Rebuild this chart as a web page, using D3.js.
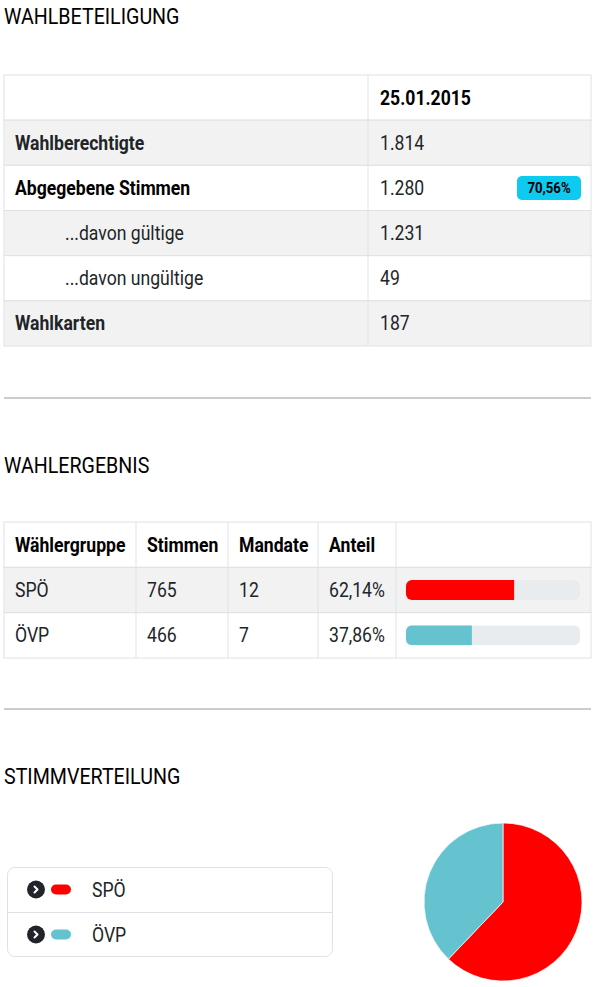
<!DOCTYPE html>
<html>
<head>
<meta charset="utf-8">
<script src="https://cdn.jsdelivr.net/npm/d3@7"></script>
<style>
  html, body { margin: 0; padding: 0; background: #fff; }
  svg { display: block; font-family: Roboto, "Noto Sans", sans-serif; }
</style>
</head>
<body>
<svg id="chart" width="601" height="987"></svg>
<script>
// --- data ---
const electionDate = "25.01.2015";
const turnoutLabels = ["Wahlberechtigte", "Abgegebene Stimmen", "...davon gültige", "...davon ungültige", "Wahlkarten"];
const turnoutValues = [1814, 1280, 1231, 49, 187];
const resultHeaders = ["Wählergruppe", "Stimmen", "Mandate", "Anteil"];
const parties = ["SPÖ", "ÖVP"];
const partyVotes = [765, 466];
const partySeats = [12, 7];
const partyColors = ["#ff0000", "#65c3d0"];

const de = d3.formatLocale({ decimal: ",", thousands: ".", grouping: [3], currency: ["", " €"] });
const fmtInt = de.format(",d");
const fmtPct = v => de.format(".2f")(v) + "%";

const svg = d3.select("#chart");
const squeeze = 0.88; // condensed look

function txt(g, x, y, s, opt = {}) {
  return g.append("text")
    .attr("transform", `translate(${x},${y}) scale(${squeeze},1)`)
    .attr("text-anchor", opt.anchor || "start")
    .style("font-size", (opt.size || 20) + "px")
    .style("font-weight", opt.bold ? 700 : 400)
    .attr("fill", opt.color || "#212529")
    .text(s);
}

const border = "#dee2e6";
const stripe = "#f2f2f2";
const left = 4, right = 591;

// --- WAHLBETEILIGUNG ---
txt(svg, 4, 24, "WAHLBETEILIGUNG", { size: 22.3, color: "#000" });

const t1 = svg.append("g");
const t1Rows = ["head"].concat(turnoutLabels);
const y1 = d3.scaleBand().domain(d3.range(t1Rows.length)).range([75, 346]);
const col1 = [left, 368, right];

t1.selectAll("rect.row")
  .data(t1Rows)
  .join("rect")
  .attr("class", "row")
  .attr("x", left).attr("width", right - left)
  .attr("y", (d, i) => y1(i)).attr("height", y1.bandwidth())
  .attr("fill", (d, i) => (i % 2 === 1 ? stripe : "#fff"))
  .attr("stroke", border).attr("stroke-width", 1);

t1.append("line")
  .attr("x1", col1[1]).attr("x2", col1[1])
  .attr("y1", y1.range()[0]).attr("y2", y1.range()[1])
  .attr("stroke", border);

const mid1 = i => y1(i) + y1.bandwidth() / 2 + 7;
txt(t1, 380, mid1(0), electionDate, { bold: true, color: "#000" });

turnoutLabels.forEach((lab, i) => {
  const sub = lab.startsWith("...");
  txt(t1, sub ? 65 : 15, mid1(i + 1), lab, { bold: !sub, color: i === 1 ? "#000" : "#212529" });
  txt(t1, 380, mid1(i + 1), fmtInt(turnoutValues[i]));
});

// turnout badge
const turnout = turnoutValues[1] / turnoutValues[0] * 100;
const badge = t1.append("g").attr("transform", `translate(549,${y1(2) + y1.bandwidth() / 2})`);
badge.append("rect")
  .attr("x", -32).attr("y", -12).attr("width", 64).attr("height", 24)
  .attr("rx", 5).attr("fill", "#0dcaf0");
txt(badge, 0, 5.5, fmtPct(turnout), { size: 15, bold: true, color: "#000", anchor: "middle" });

// divider
svg.append("line").attr("x1", left).attr("x2", right).attr("y1", 398).attr("y2", 398)
  .attr("stroke", "#cccccc").attr("stroke-width", 2);

// --- WAHLERGEBNIS ---
txt(svg, 4, 473, "WAHLERGEBNIS", { size: 22.3, color: "#000" });

const t2 = svg.append("g");
const y2 = d3.scaleBand().domain(d3.range(parties.length + 1)).range([522, 658]);
const cols2 = [left, 136, 228, 318, 396, right];

t2.selectAll("rect.row")
  .data(d3.range(parties.length + 1))
  .join("rect")
  .attr("class", "row")
  .attr("x", left).attr("width", right - left)
  .attr("y", i => y2(i)).attr("height", y2.bandwidth())
  .attr("fill", i => (i % 2 === 1 ? stripe : "#fff"))
  .attr("stroke", border);

t2.selectAll("line.col")
  .data(cols2.slice(1, -1))
  .join("line")
  .attr("class", "col")
  .attr("x1", d => d).attr("x2", d => d)
  .attr("y1", y2.range()[0]).attr("y2", y2.range()[1])
  .attr("stroke", border);

const mid2 = i => y2(i) + y2.bandwidth() / 2 + 7;
resultHeaders.forEach((h, j) => txt(t2, cols2[j] + 11, mid2(0), h, { bold: true, color: "#000" }));

const validVotes = turnoutValues[2];
const shares = partyVotes.map(v => v / validVotes * 100);
const barX = d3.scaleLinear().domain([0, 100]).range([0, 174]);
const barH = 20;

parties.forEach((p, i) => {
  const r = i + 1;
  txt(t2, cols2[0] + 11, mid2(r), p);
  txt(t2, cols2[1] + 11, mid2(r), partyVotes[i]);
  txt(t2, cols2[2] + 11, mid2(r), partySeats[i]);
  txt(t2, cols2[3] + 11, mid2(r), fmtPct(shares[i]));

  const bg = t2.append("g").attr("transform", `translate(406,${y2(r) + y2.bandwidth() / 2 - barH / 2})`);
  const clipId = "clip" + i;
  bg.append("clipPath").attr("id", clipId)
    .append("rect").attr("width", barX(100)).attr("height", barH).attr("rx", 6);
  const inner = bg.append("g").attr("clip-path", `url(#${clipId})`);
  inner.append("rect").attr("width", barX(100)).attr("height", barH).attr("fill", "#e9ecef");
  inner.append("rect").attr("width", barX(shares[i])).attr("height", barH).attr("fill", partyColors[i]);
});

// divider
svg.append("line").attr("x1", left).attr("x2", right).attr("y1", 709).attr("y2", 709)
  .attr("stroke", "#cccccc").attr("stroke-width", 2);

// --- STIMMVERTEILUNG ---
txt(svg, 4, 784, "STIMMVERTEILUNG", { size: 22.3, color: "#000" });

// legend
const lg = svg.append("g");
const ly = d3.scaleBand().domain(parties).range([867, 957]);
lg.append("rect")
  .attr("x", 7.5).attr("y", 867.5).attr("width", 325).attr("height", 89)
  .attr("rx", 7).attr("fill", "#fff").attr("stroke", border);
lg.selectAll("line.sep")
  .data(parties.slice(1))
  .join("line")
  .attr("class", "sep")
  .attr("x1", 8).attr("x2", 332)
  .attr("y1", d => ly(d) + 0.5).attr("y2", d => ly(d) + 0.5)
  .attr("stroke", border);

parties.forEach((p, i) => {
  const cy = ly(p) + ly.bandwidth() / 2;
  const item = lg.append("g").attr("transform", `translate(0,${cy})`);
  item.append("circle").attr("cx", 36).attr("cy", 0).attr("r", 9).attr("fill", "#212529");
  item.append("path").attr("d", "M34.5,-3 L37.5,0 L34.5,3")
    .attr("fill", "none").attr("stroke", "#fff").attr("stroke-width", 2)
    .attr("stroke-linecap", "round").attr("stroke-linejoin", "round");
  item.append("rect").attr("x", 51).attr("y", -5).attr("width", 20).attr("height", 10)
    .attr("rx", 5).attr("fill", partyColors[i]);
  txt(item, 92, 7, p, { size: 20 });
});

// pie
const pie = d3.pie().sort(null).value(d => d.votes);
const arc = d3.arc().innerRadius(0).outerRadius(79);
const pieData = parties.map((p, i) => ({ party: p, votes: partyVotes[i], color: partyColors[i] }));
svg.append("g")
  .attr("transform", "translate(503,902)")
  .selectAll("path")
  .data(pie(pieData))
  .join("path")
  .attr("d", arc)
  .attr("fill", d => d.data.color)
  .attr("stroke", "#fff")
  .attr("stroke-width", 0.7);
</script>
</body>
</html>
